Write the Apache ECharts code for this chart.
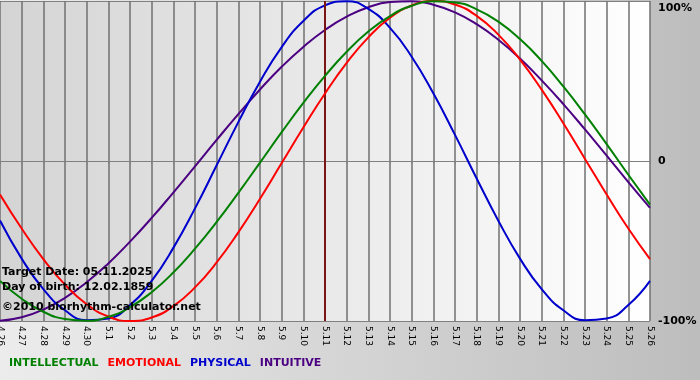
<!DOCTYPE html>
<html>
<head>
<meta charset="utf-8">
<script src="https://cdn.jsdelivr.net/npm/echarts@6/dist/echarts.min.js"></script>
<style>html,body{margin:0;padding:0;}#c{width:700px;height:380px;}</style>
</head>
<body>
<div id="c"></div>
<script>
var dates = ['4.26','4.27','4.28','4.29','4.30','5.1','5.2','5.3','5.4','5.5','5.6','5.7','5.8','5.9','5.10','5.11','5.12','5.13','5.14','5.15','5.16','5.17','5.18','5.19','5.20','5.21','5.22','5.23','5.24','5.25','5.26'];
var intellectual = [-75.0,-86.1,-94.2,-98.8,-99.9,-97.4,-91.4,-82.0,-69.7,-54.8,-38.1,-19.9,-1.0,18.0,36.3,53.2,68.3,80.9,90.6,97.0,99.8,99.1,94.8,87.1,76.2,62.6,46.6,29.1,10.5,-8.6,-27.3];
var emotional = [-20.9,-42.2,-61.3,-77.3,-89.5,-97.2,-100.0,-97.8,-90.7,-79.0,-63.4,-44.6,-23.6,-1.3,20.9,42.2,61.3,77.3,89.5,97.2,100.0,97.8,90.7,79.0,63.4,44.6,23.6,1.3,-20.9,-42.2,-61.3];
var physical = [-37.2,-61.0,-80.1,-93.3,-99.5,-98.4,-90.0,-74.9,-54.3,-29.6,-2.7,24.3,49.6,71.2,87.5,97.3,99.9,95.1,83.2,65.2,42.3,16.3,-10.9,-37.3,-61.0,-80.1,-93.3,-99.5,-98.4,-90.0,-74.9];
var intuitive = [-99.9,-97.7,-92.9,-85.5,-75.8,-64.0,-50.4,-35.6,-19.7,-3.3,13.2,29.3,44.7,58.9,71.3,81.9,90.2,96.1,99.3,99.9,97.7,92.9,85.5,75.8,64.0,50.4,35.6,19.7,3.3,-13.2,-29.3];
var yTicks = {'100':'100%','0':'0','-100':'-100%'};
var targetDate = '5.11';
var seriesNames = ['INTELLECTUAL','EMOTIONAL','PHYSICAL','INTUITIVE'];
var seriesColors = ['#008000','#ff0000','#0000cc','#4b0082'];
var seriesData = [intellectual, emotional, physical, intuitive];

var chart = echarts.init(document.getElementById('c'), null, {renderer:'canvas'});
var font = 'DejaVu Sans';
var series = seriesNames.map(function(n,i){
  var s = {
    name:n, type:'line', data:seriesData[i], smooth:true, showSymbol:false,
    lineStyle:{color:seriesColors[i], width:2}, itemStyle:{color:seriesColors[i]},
    z: 3 + (3 - i), animation:false
  };
  if (i === 0) {
    s.markLine = {silent:true, symbol:['none','none'], label:{show:false},
      lineStyle:{color:'#7a1515', width:2, type:'solid'},
      data:[{xAxis: targetDate}], animation:false};
  }
  return s;
});
chart.setOption({
  animation:false,
  backgroundColor:{type:'linear', x:0, y:0, x2:1, y2:0, colorStops:[{offset:0,color:'#ececec'},{offset:1,color:'#bdbdbd'}]},
  grid:{left:0, right:50, top:1, bottom:59, show:true, borderWidth:0, outerBoundsMode:'none', containLabel:false,
    backgroundColor:{type:'linear', x:0, y:0, x2:1, y2:0, colorStops:[{offset:0,color:'#d4d4d4'},{offset:1,color:'#ffffff'}]}},
  legend:{left:4, top:353, icon:'none', itemWidth:0, itemHeight:0, itemGap:9, selectedMode:false,
    data: seriesNames.map(function(n,i){return {name:n, textStyle:{color:seriesColors[i]}};}),
    textStyle:{fontFamily:font, fontWeight:'bold', fontSize:11, padding:[0,0,0,-5]}},
  xAxis:{type:'category', data:dates, boundaryGap:false,
    axisLine:{show:true, lineStyle:{color:'#808080', width:1}},
    axisTick:{show:true, interval:0, length:3, lineStyle:{color:'#808080'}},
    axisLabel:{interval:0, rotate:-90, fontFamily:font, fontSize:9, color:'#000', margin:5, showMinLabel:true, showMaxLabel:true, hideOverlap:false},
    splitLine:{show:true, interval:0, lineStyle:{color:'#707070', width:1.5}}},
  yAxis:{type:'value', position:'right', min:-100, max:100, interval:100,
    axisLine:{show:false}, axisTick:{show:false},
    axisLabel:{margin:8, fontFamily:font, fontWeight:'bold', fontSize:11, color:'#000',
      formatter:function(v){ var t = yTicks[String(v)]; return v===100 ? '{t|'+t+'}' : t; },
      rich:{t:{fontFamily:font, fontWeight:'bold', fontSize:11, color:'#000', padding:[14,0,0,0]}}},
    splitLine:{show:true, lineStyle:{color:'#808080', width:1}}},
  graphic:[
    {type:'text', left:2, top:267, style:{text:'Target Date: 05.11.2025', font:'bold 11px DejaVu Sans', fill:'#000'}, z:100},
    {type:'text', left:2, top:282, style:{text:'Day of birth: 12.02.1859', font:'bold 11px DejaVu Sans', fill:'#000'}, z:100},
    {type:'text', left:2, top:302, style:{text:'©2010 biorhythm-calculator.net', font:'bold 11px DejaVu Sans', fill:'#000'}, z:100}
  ],
  series:series
});
</script>
</body>
</html>
